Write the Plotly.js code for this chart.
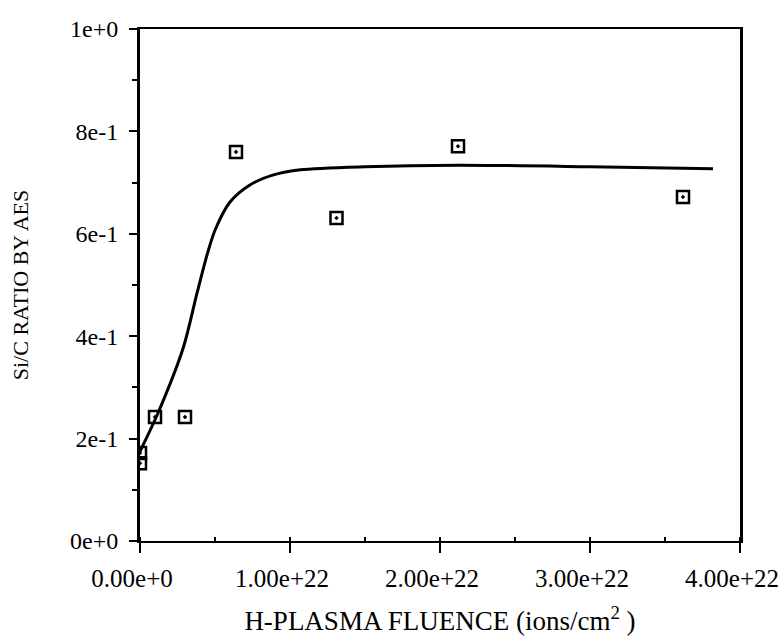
<!DOCTYPE html>
<html>
<head>
<meta charset="utf-8">
<script src="https://cdn.plot.ly/plotly-3.0.1.min.js"></script>
<style>html,body{margin:0;padding:0;background:#fff;}#chart{width:784px;height:642px;}</style>
</head>
<body>
<div id="chart"></div>
<script>
// Measured points (Si/C ratio by AES vs H-plasma fluence)
const fluence = [0, 0, 1.0e21, 3.0e21, 6.4e21, 1.31e22, 2.12e22, 3.62e22];
const ratio   = [0.172, 0.152, 0.242, 0.242, 0.760, 0.631, 0.771, 0.672];

// Fitted curve as drawn
const fitX = [0, 1.2e21, 2.9e21, 3.8e21, 4.5e21, 5.0e21, 6.0e21, 7.3e21, 8.9e21, 1.07e22, 1.5e22, 2.12e22, 3.0e22, 3.82e22];
const fitY = [0.175, 0.25, 0.379, 0.484, 0.562, 0.607, 0.662, 0.695, 0.715, 0.725, 0.731, 0.734, 0.731, 0.727];

// Tick labels
const xTickVals = [0, 1e22, 2e22, 3e22, 4e22];
const xTickText = ["0.00e+0", "1.00e+22", "2.00e+22", "3.00e+22", "4.00e+22"];
const yTickVals = [0, 0.2, 0.4, 0.6, 0.8, 1.0];
const yTickText = ["0e+0", "2e-1", "4e-1", "6e-1", "8e-1", "1e+0"];

const xTitle = "H-PLASMA FLUENCE (ions/cm<sup>2</sup> )";
const yTitle = "Si/C RATIO BY AES";

const FAM = "Liberation Serif";

const traces = [
  {x: fitX, y: fitY, mode: "lines", line: {color: "#000", width: 3, shape: "spline", smoothing: 0.8}, hoverinfo: "skip"},
  {x: fluence, y: ratio, mode: "markers",
   marker: {symbol: "square-open-dot", size: 12, color: "#000", line: {color: "#000", width: 2.5}}}
];

const layout = {
  width: 784, height: 642,
  margin: {l: 140, r: 44, t: 29, b: 101},
  paper_bgcolor: "#fff", plot_bgcolor: "#fff",
  showlegend: false,
  font: {family: FAM, size: 24, color: "#000"},
  xaxis: {
    range: [0, 4e22], tickmode: "array", tickvals: xTickVals, ticktext: xTickText,
    showgrid: false, zeroline: false,
    showline: true, linecolor: "#000", linewidth: 2, mirror: true,
    ticks: "outside", ticklen: 10, tickwidth: 2, tickcolor: "#000",
    ticklabelstandoff: 4, ticklabelshift: -8, ticklabeloverflow: "allow",
    tickfont: {family: FAM, size: 25, color: "#000"},
    minor: {dtick: 5e21, ticks: "inside", ticklen: 4, tickwidth: 1.5, tickcolor: "#000", showgrid: false},
    title: {text: xTitle, font: {family: FAM, size: 27, color: "#000"}, standoff: 20}
  },
  yaxis: {
    range: [0, 1], tickmode: "array", tickvals: yTickVals, ticktext: yTickText,
    showgrid: false, zeroline: false,
    showline: true, linecolor: "#000", linewidth: 3, mirror: true,
    ticks: "outside", ticklen: 8, tickwidth: 2, tickcolor: "#000",
    ticklabelstandoff: 6,
    tickfont: {family: FAM, size: 24, color: "#000"},
    minor: {dtick: 0.1, ticks: "outside", ticklen: 5, tickwidth: 2, tickcolor: "#000", showgrid: false},
    title: {text: yTitle, font: {family: FAM, size: 22, color: "#000"}, standoff: 36}
  }
};

Plotly.newPlot("chart", traces, layout, {displayModeBar: false, staticPlot: true});
</script>
</body>
</html>
